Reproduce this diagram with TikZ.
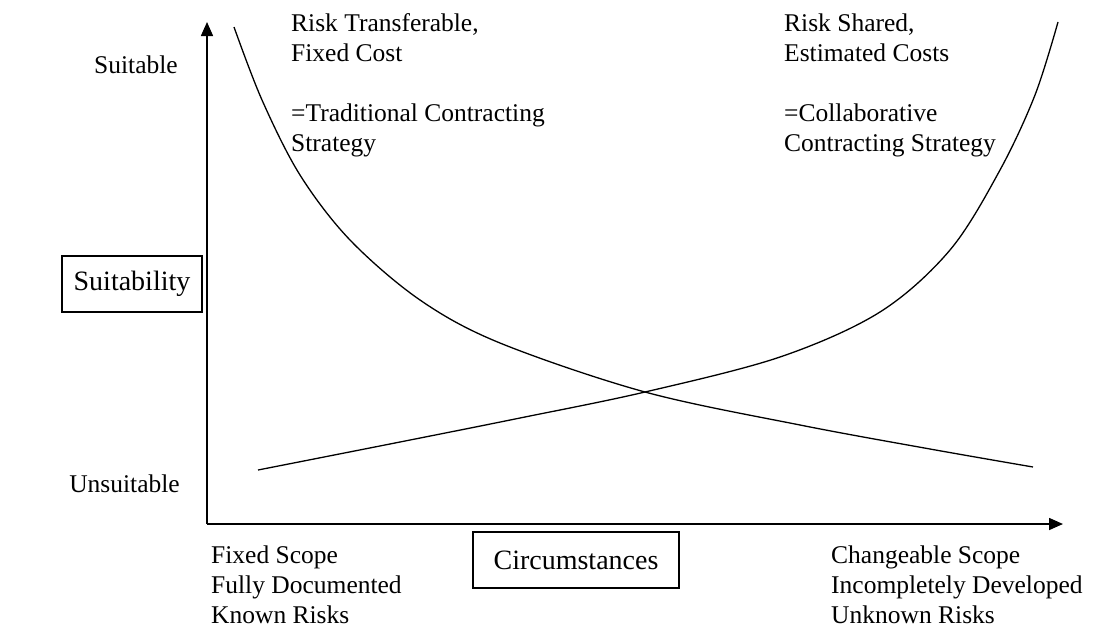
\documentclass[tikz,border=0pt]{standalone}
\usepackage{fontspec}
\setmainfont{Liberation Serif}
\usetikzlibrary{arrows.meta}
\begin{document}
\begin{tikzpicture}[x=1pt,y=-1pt,
  axis/.style={line width=1.5pt,-{Triangle[length=14pt,width=12pt]}},
  curve/.style={line width=1.3pt},
  % text blocks hang from a strut so the first baseline sits 21pt below the anchor
  lbl/.style={inner sep=0pt,anchor=north west,align=left,
    font=\fontsize{25.5}{30}\selectfont},
  tag/.style={inner sep=0pt,anchor=base east,
    font=\fontsize{25.5}{30}\selectfont},
  boxlbl/.style={draw,line width=1.3pt,inner sep=0pt,
    font=\fontsize{28}{32}\selectfont}]
\useasboundingbox (0,0) rectangle (1110,630);
% axes
\coordinate (origin) at (207,524);
\coordinate (ytip) at (207,22);
\coordinate (xtip) at (1063,524);
\draw[axis] (origin) -- (ytip);
\draw[axis] (origin) -- (xtip);
% suitability curves
\draw[curve] plot[smooth,tension=0.55] coordinates {
  (234,27) (262,100) (300,175) (350,240) (420,300) (500,343)
  (645,392) (800,425) (930,449) (1033,467)};
\draw[curve] plot[smooth,tension=0.55] coordinates {
  (258,470) (400,442) (520,418) (645,392) (780,357) (880,312)
  (950,250) (1000,170) (1035,95) (1058,22)};
% axis labels
\node[tag] (suit) at (178,73) {Suitable};
\node[tag] (unsuit) at (180,492) {Unsuitable};
\node[boxlbl,minimum width=140pt,minimum height=56pt] (suitability) at (132,284) {Suitability};
\node[boxlbl,minimum width=206pt,minimum height=56pt] (circ) at (576,560) {Circumstances};
% strategy descriptions
\node[lbl] (trad) at (291,10) {\strut Risk Transferable,\\Fixed Cost\\[30pt]=Traditional Contracting\\Strategy};
\node[lbl] (collab) at (784,10) {\strut Risk Shared,\\Estimated Costs\\[30pt]=Collaborative\\Contracting Strategy};
% circumstance descriptions
\node[lbl] (fixed) at (211,542) {\strut Fixed Scope\\Fully Documented\\Known Risks};
\node[lbl] (change) at (831,542) {\strut Changeable Scope\\Incompletely Developed\\Unknown Risks};
\end{tikzpicture}
\end{document}
